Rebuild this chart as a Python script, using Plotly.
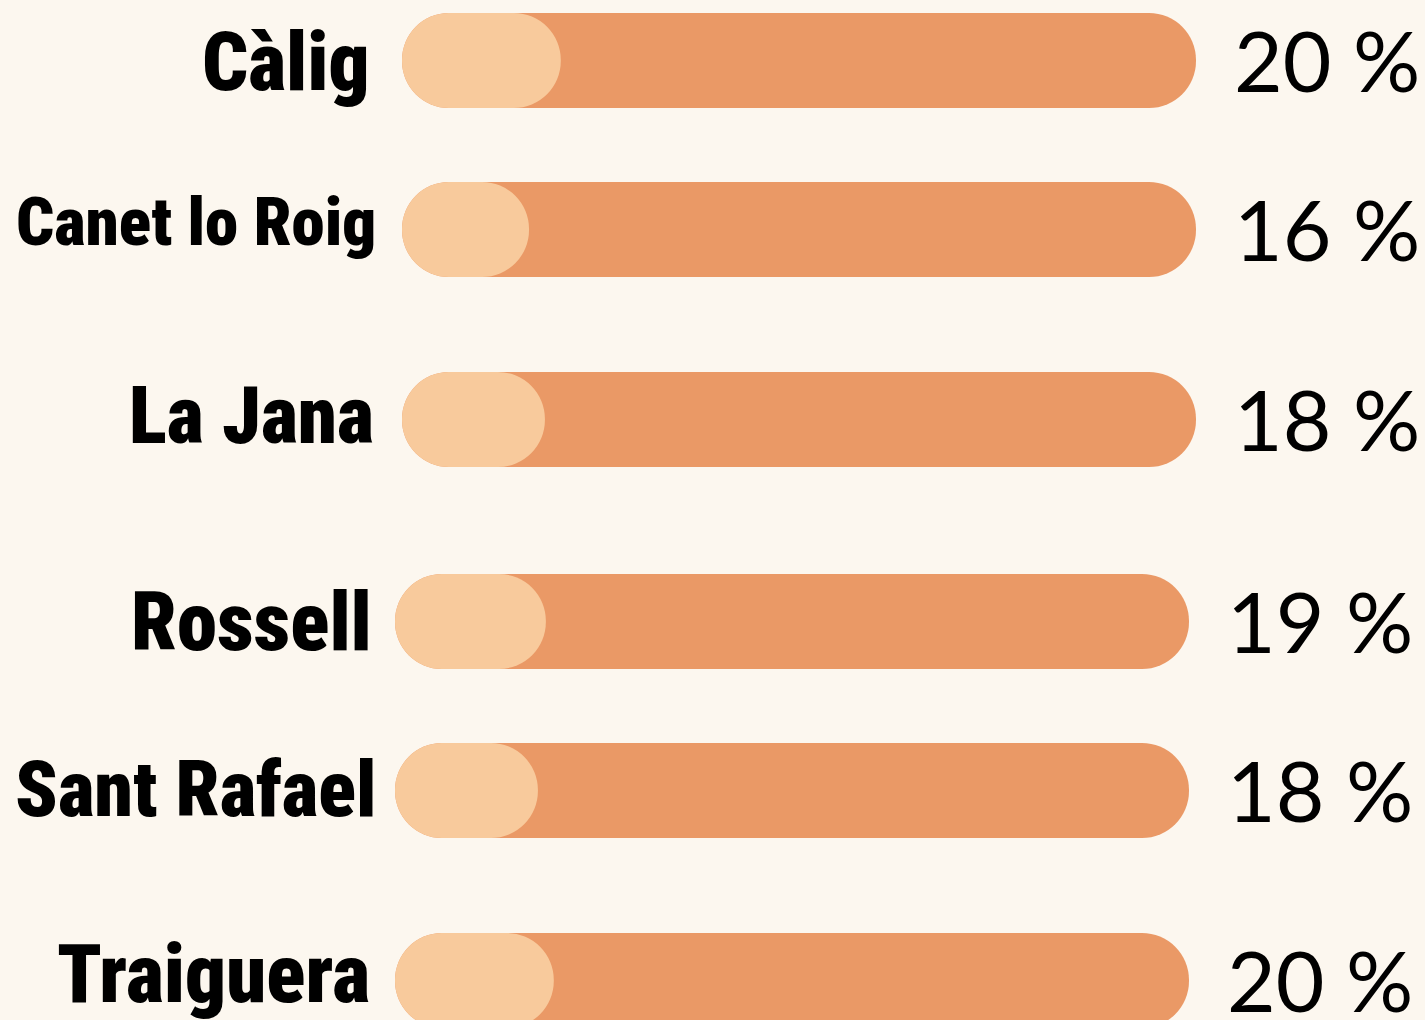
import plotly.graph_objects as go

# ---- data ----
towns = ["Càlig", "Canet lo Roig", "La Jana", "Rossell", "Sant Rafael", "Traiguera"]
shares = [20, 16, 18, 19, 18, 20]          # percent
total = 100

# ---- layout helpers (pixel-based geometry, not data) ----
W, H = 1425, 1020
row_y = [60.5, 229.5, 419.5, 621.5, 790.5, 980.5]   # row centres (px from top)
row_shift_px = [0, 0, 0, -7, -7, -7]                 # small horizontal offsets of bars
name_right_px = [372, 378, 376, 374, 378, 372]       # right edge of town names
name_dy = [2, -8, -4, 1, -1, -6]                     # vertical nudge of town names
name_sizes = [81, 67, 79, 81, 78, 81]
bar_left_px, bar_len_px, bar_h = 402, 794, 95

px_per_unit = bar_len_px / total
x0 = -bar_left_px / px_per_unit
x1 = (W - bar_left_px) / px_per_unit
shift = [s / px_per_unit for s in row_shift_px]

BG = "#FCF7EF"
DARK = "#EA9966"
LIGHT = "#F8CA9C"

fig = go.Figure()

# full bar (100 %)
fig.add_trace(go.Bar(
    orientation="h", y=row_y, base=shift, x=[total] * len(towns),
    width=bar_h, marker=dict(color=DARK, line=dict(width=0), cornerradius="50%"),
    hoverinfo="skip", showlegend=False,
))
# share bar
fig.add_trace(go.Bar(
    orientation="h", y=row_y, base=shift, x=shares,
    width=bar_h, marker=dict(color=LIGHT, line=dict(width=0), cornerradius="50%"),
    hoverinfo="skip", showlegend=False,
))

annotations = []
for i, (t, v) in enumerate(zip(towns, shares)):
    annotations.append(dict(
        x=(name_right_px[i] - bar_left_px) / px_per_unit, y=row_y[i] + name_dy[i],
        xref="x", yref="y",
        text=f'<span style="font-stretch:condensed">{t}</span>', showarrow=False,
        xanchor="right", yanchor="middle",
        font=dict(family="Roboto", size=name_sizes[i], color="#000000", weight=900),
    ))
    annotations.append(dict(
        x=total + shift[i] + 4.5, y=row_y[i] - 1, xref="x", yref="y",
        text=f"{v} %", showarrow=False, xanchor="left", yanchor="middle",
        font=dict(family="Lato, Noto Sans, sans-serif", size=84, color="#000000"),
    ))

fig.update_layout(
    width=W, height=H, margin=dict(l=0, r=0, t=0, b=0),
    paper_bgcolor=BG, plot_bgcolor=BG, barmode="overlay",
    xaxis=dict(range=[x0, x1], visible=False, fixedrange=True),
    yaxis=dict(range=[H, 0], visible=False, fixedrange=True),
    annotations=annotations,
)

fig.write_html("out.html")
